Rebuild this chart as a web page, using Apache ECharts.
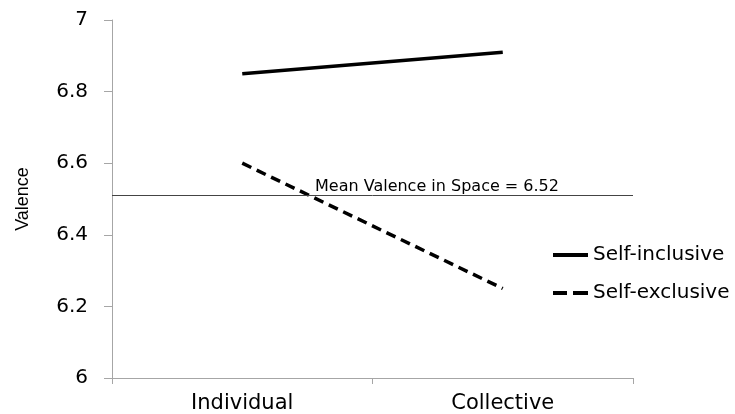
<!DOCTYPE html>
<html>
<head>
<meta charset="utf-8">
<script src="https://cdn.jsdelivr.net/npm/echarts@6/dist/echarts.min.js"></script>
<style>html,body{margin:0;padding:0;background:#fff;}#c{width:735px;height:414px;}</style>
</head>
<body>
<div id="c"></div>
<script>
const categories = ['Individual', 'Collective'];
const selfInclusive = [6.85, 6.91];
const selfExclusive = [6.60, 6.25];
const meanValence = 6.512;
const meanLabel = 'Mean Valence in Space = 6.52';
const yTicks = [6, 6.2, 6.4, 6.6, 6.8, 7];
const seriesNames = ['Self-inclusive', 'Self-exclusive'];

const chart = echarts.init(document.getElementById('c'));
const font = 'DejaVu Sans';
chart.setOption({
  animation: false,
  backgroundColor: '#fff',
  grid: { left: 112, right: 102, top: 20, bottom: 35 },
  legend: {
    orient: 'vertical',
    left: 548,
    top: 240,
    itemWidth: 35,
    itemHeight: 4,
    itemGap: 18,
    textStyle: { fontFamily: font, fontSize: 20, color: '#000' },
    data: [
      { name: seriesNames[0], icon: 'rect', itemStyle: { color: '#000' } },
      { name: seriesNames[1], icon: 'path://M0,0h14v4h-14z M20,0h15v4h-15z', itemStyle: { color: '#000' } }
    ]
  },
  xAxis: {
    type: 'category',
    data: categories,
    boundaryGap: true,
    axisLine: { lineStyle: { color: '#a6a6a6', width: 1 } },
    axisTick: { show: true, length: 6, interval: 0, lineStyle: { color: '#a6a6a6' } },
    axisLabel: { fontFamily: font, fontSize: 21, color: '#000', margin: 15 },
    splitLine: { show: false }
  },
  yAxis: {
    type: 'value',
    min: 6, max: 7, interval: 0.2,
    name: 'Valence',
    nameLocation: 'middle',
    nameRotate: 90,
    nameGap: 80,
    nameTextStyle: { fontFamily: 'Liberation Sans Narrow, Liberation Sans', fontSize: 18, color: '#000' },
    axisLine: { show: true, lineStyle: { color: '#a6a6a6', width: 1 } },
    axisTick: { show: true, length: 8, lineStyle: { color: '#a6a6a6' } },
    axisLabel: {
      fontFamily: font, fontSize: 20, color: '#000', margin: 24,
      formatter: v => { const t = yTicks.find(x => Math.abs(x - v) < 1e-6); return t === undefined ? '' : String(t); }
    },
    splitLine: { show: false }
  },
  series: [
    {
      name: seriesNames[0],
      type: 'line',
      data: selfInclusive,
      symbol: 'none',
      lineStyle: { color: '#000', width: 3.5, type: 'solid' },
      itemStyle: { color: '#000' },
      markLine: {
        silent: true,
        symbol: 'none',
        lineStyle: { color: '#444', width: 1, type: 'solid' },
        label: {
          show: true,
          position: 'insideStartTop',
          formatter: meanLabel,
          fontFamily: font, fontSize: 16, color: '#000',
          padding: [0, 0, 0, 202],
          distance: 1
        },
        data: [{ yAxis: meanValence }]
      }
    },
    {
      name: seriesNames[1],
      type: 'line',
      data: selfExclusive,
      symbol: 'none',
      lineStyle: { color: '#000', width: 3.5, type: [10, 6] },
      itemStyle: { color: '#000' }
    }
  ]
});
</script>
</body>
</html>
